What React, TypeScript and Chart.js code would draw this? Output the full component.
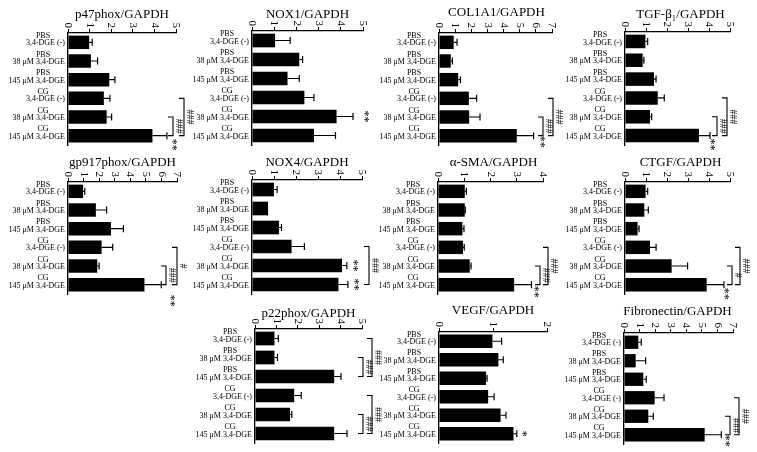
import React, { useEffect, useRef } from "react";
import { Chart, registerables } from "chart.js";

Chart.register(...registerables);

// ---------- DATA ----------
const groups = ["PBS", "PBS", "PBS", "CG", "CG", "CG"];
const doses = ["3,4-DGE (-)", "38 μM 3,4-DGE", "145 μM 3,4-DGE", "3,4-DGE (-)", "38 μM 3,4-DGE", "145 μM 3,4-DGE"];

const p47phoxMean = [0.98, 1.06, 1.91, 1.66, 1.79, 3.91];
const p47phoxErr = [0.14, 0.31, 0.26, 0.28, 0.23, 0.67];
const nox1Mean = [1.04, 2.13, 1.6, 2.36, 3.81, 2.79];
const nox1Err = [0.68, 0.15, 0.53, 0.43, 0.74, 0.97];
const col1a1Mean = [0.91, 0.73, 1.19, 1.85, 1.87, 4.82];
const col1a1Err = [0.21, 0.1, 0.14, 0.48, 0.67, 1.04];
const tgfMean = [0.97, 0.84, 1.38, 1.56, 1.19, 3.52];
const tgfErr = [0.11, 0.06, 0.1, 0.31, 0.08, 0.53];
const gp917Mean = [0.97, 1.79, 2.76, 2.16, 1.88, 4.91];
const gp917Err = [0.11, 0.69, 0.8, 0.71, 0.12, 1.08];
const nox4Mean = [1.0, 0.73, 1.23, 1.8, 4.09, 3.93];
const nox4Err = [0.14, 0, 0.11, 0.58, 0.22, 0.43];
const smaMean = [1.02, 1.02, 0.93, 0.95, 1.21, 2.9];
const smaErr = [0.06, 0.02, 0.06, 0.05, 0.05, 0.66];
const ctgfMean = [0.98, 0.92, 0.6, 1.19, 2.22, 3.89];
const ctgfErr = [0.1, 0.19, 0.07, 0.29, 0.76, 0.82];
const p22phoxMean = [0.91, 0.91, 3.7, 1.83, 1.64, 3.7];
const p22phoxErr = [0.18, 0.14, 0.32, 0.33, 0.08, 0.6];
const vegfMean = [0.99, 1.1, 0.87, 0.91, 1.14, 1.38];
const vegfErr = [0.17, 0.09, 0.02, 0.11, 0.1, 0.06];
const fnMean = [0.92, 0.75, 1.24, 1.97, 1.56, 5.18];
const fnErr = [0.19, 0.64, 0.19, 0.6, 0.32, 1.07];

const titles = [
  "p47phox/GAPDH", "NOX1/GAPDH", "COL1A1/GAPDH", "TGF-β₁/GAPDH",
  "gp917phox/GAPDH", "NOX4/GAPDH", "α-SMA/GAPDH", "CTGF/GAPDH",
  "p22phox/GAPDH", "VEGF/GAPDH", "Fibronectin/GAPDH",
];
const axisMax = [5, 5, 7, 5, 7, 5, 4, 5, 5, 2, 7];

// significance marks: [barIndex, text]
const p47Stars = [[5, "**"]];
const nox1Stars = [[4, "**"]];
const col1a1Stars = [[5, "**"]];
const tgfStars = [[5, "**"]];
const gp917Stars = [[5, "**"]];
const nox4Stars = [[4, "**"], [5, "**"]];
const smaStars = [[5, "**"]];
const ctgfStars = [[5, "**"]];
const p22Stars: any[] = [];
const vegfStars = [[5, "*"]];
const fnStars = [[5, "**"]];

// brackets: [fromBar, toBar, label]
const p47Brackets = [[4, 5, "###"], [3, 5, "###"]];
const nox1Brackets: any[] = [];
const col1a1Brackets = [[4, 5, "###"], [3, 5, "###"]];
const tgfBrackets = [[4, 5, "###"], [3, 5, "###"]];
const gp917Brackets = [[4, 5, "###"], [3, 5, "#"]];
const nox4Brackets = [[3, 5, "###"]];
const smaBrackets = [[4, 5, "###"], [3, 5, "###"]];
const ctgfBrackets = [[4, 5, "#"], [3, 5, "###"]];
const p22Brackets = [[1, 2, "###"], [0, 2, "###"], [4, 5, "###"], [3, 5, "###"]];
const vegfBrackets: any[] = [];
const fnBrackets = [[4, 5, "###"], [3, 5, "###"]];

// ---------- LAYOUT (positions / styles) ----------
const W = 757;
const H = 452;
const FONT = '"Liberation Serif", "Times New Roman", serif';

const layouts = [
  { x0: 68, x1: 176, top: 33, bottom: 145, titleY: 15, titleDx: 0, starOff: [[5, 9]], brDx: [-3, 8] },
  { x0: 252, x1: 363, top: 31, bottom: 145, titleY: 15, titleDx: 0, starOff: [[11, 0]], brDx: [] },
  { x0: 439, x1: 552, top: 33, bottom: 145, titleY: 13, titleDx: 1, starOff: [[7, 6]], brDx: [-9, 1] },
  { x0: 625, x1: 730, top: 32, bottom: 145, titleY: 15, titleDx: 3, starOff: [[0, 9]], brDx: [-13, -3] },
  { x0: 68, x1: 177, top: 182, bottom: 294, titleY: 163, titleDx: 0, starOff: [[9, 16]], brDx: [-11, 0] },
  { x0: 252, x1: 362, top: 180, bottom: 294, titleY: 163, titleDx: 0, starOff: [[6, 0], [6, 0]], brDx: [7] },
  { x0: 438, x1: 543, top: 182, bottom: 294, titleY: 163, titleDx: 3, starOff: [[3, 7]], brDx: [-3, 5] },
  { x0: 625, x1: 730, top: 182, bottom: 294, titleY: 163, titleDx: 3, starOff: [[0, 9]], brDx: [2, 10] },
  { x0: 255, x1: 362, top: 329, bottom: 443, titleY: 314, titleDx: 0, starOff: [], brDx: [1, 10, 1, 10] },
  { x0: 439, x1: 547, top: 332, bottom: 443, titleY: 311, titleDx: 0, starOff: [[5, 0]], brDx: [] },
  { x0: 624, x1: 733, top: 333, bottom: 444, titleY: 312, titleDx: -1, starOff: [[4, 6]], brDx: [-3, 6] },
];

const panelData = [
  [p47phoxMean, p47phoxErr, p47Stars, p47Brackets],
  [nox1Mean, nox1Err, nox1Stars, nox1Brackets],
  [col1a1Mean, col1a1Err, col1a1Stars, col1a1Brackets],
  [tgfMean, tgfErr, tgfStars, tgfBrackets],
  [gp917Mean, gp917Err, gp917Stars, gp917Brackets],
  [nox4Mean, nox4Err, nox4Stars, nox4Brackets],
  [smaMean, smaErr, smaStars, smaBrackets],
  [ctgfMean, ctgfErr, ctgfStars, ctgfBrackets],
  [p22phoxMean, p22phoxErr, p22Stars, p22Brackets],
  [vegfMean, vegfErr, vegfStars, vegfBrackets],
  [fnMean, fnErr, fnStars, fnBrackets],
];

function rotText(ctx: CanvasRenderingContext2D, text: string, x: number, y: number, align: CanvasTextAlign) {
  ctx.save();
  ctx.translate(x, y);
  ctx.rotate(Math.PI / 2);
  ctx.textAlign = align;
  ctx.textBaseline = "middle";
  ctx.fillText(text, 0, 0);
  ctx.restore();
}

const annotate = {
  id: "annotate",
  afterDraw(chart: any, _args: any, opts: any) {
    const idx = opts.idx as number;
    const L = layouts[idx];
    const [means, errs, stars, brackets] = panelData[idx] as any[];
    const ctx: CanvasRenderingContext2D = chart.ctx;
    const xs = chart.scales.x;
    const ys = chart.scales.y;
    const a = chart.chartArea;
    ctx.save();
    ctx.fillStyle = "#000";
    ctx.strokeStyle = "#000";

    // title
    ctx.font = `13px ${FONT}`;
    ctx.textAlign = "center";
    ctx.textBaseline = "middle";
    ctx.fillText(titles[idx], (a.left + a.right) / 2 + L.titleDx, L.titleY);

    // tick labels (rotated)
    ctx.font = `11px ${FONT}`;
    for (const t of xs.ticks) {
      rotText(ctx, String(t.value), xs.getPixelForValue(t.value), a.top - 5, "right");
    }

    // category labels
    ctx.font = `8px ${FONT}`;
    ctx.textBaseline = "middle";
    for (let i = 0; i < doses.length; i++) {
      const y = ys.getPixelForValue(i);
      ctx.textAlign = "right";
      ctx.fillText(doses[i], a.left - 3, y + 1);
      ctx.textAlign = "center";
      ctx.fillText(groups[i], a.left - 25, y - 6.5);
    }

    // error bars
    ctx.lineWidth = 1.2;
    for (let i = 0; i < means.length; i++) {
      if (!errs[i]) continue;
      const y = ys.getPixelForValue(i);
      const xa = xs.getPixelForValue(means[i]);
      const xb = xs.getPixelForValue(means[i] + errs[i]);
      ctx.beginPath();
      ctx.moveTo(xa, y);
      ctx.lineTo(xb, y);
      ctx.moveTo(xb, y - 3.5);
      ctx.lineTo(xb, y + 3.5);
      ctx.stroke();
    }

    // stars
    ctx.font = `12px ${FONT}`;
    stars.forEach((s: any, k: number) => {
      const i = s[0];
      const off = L.starOff[k] || [4, 0];
      const x = xs.getPixelForValue(means[i] + errs[i]) + off[0];
      const y = ys.getPixelForValue(i) + off[1];
      rotText(ctx, s[1], x, y, "center");
    });

    // brackets
    ctx.font = `10px ${FONT}`;
    ctx.lineWidth = 1.1;
    brackets.forEach((b: any, k: number) => {
      const bx = a.right + (L.brDx[k] || 0);
      const y1 = ys.getPixelForValue(b[0]);
      const y2 = ys.getPixelForValue(b[1]);
      ctx.beginPath();
      ctx.moveTo(bx - 5, y1);
      ctx.lineTo(bx, y1);
      ctx.lineTo(bx, y2);
      ctx.lineTo(bx - 5, y2);
      ctx.stroke();
      rotText(ctx, b[2], bx + 6, (y1 + y2) / 2, "center");
    });
    ctx.restore();
  },
};

function Panel({ idx }: { idx: number }) {
  const ref = useRef<HTMLCanvasElement>(null);
  useEffect(() => {
    const L = layouts[idx];
    const [means] = panelData[idx] as any[];
    const chart = new Chart(ref.current as HTMLCanvasElement, {
      type: "bar",
      data: {
        labels: doses.map((d, i) => groups[i] + " " + d),
        datasets: [
          {
            data: means,
            backgroundColor: "#000",
            borderWidth: 0,
            barPercentage: 0.72,
            categoryPercentage: 1,
          },
        ],
      },
      options: {
        indexAxis: "y",
        responsive: false,
        animation: false,
        events: [],
        layout: { padding: { left: L.x0, top: L.top, right: W - L.x1, bottom: H - L.bottom } },
        plugins: {
          legend: { display: false },
          tooltip: { enabled: false },
          title: { display: false },
          annotate: { idx },
        } as any,
        scales: {
          x: {
            type: "linear",
            position: "top",
            min: 0,
            max: axisMax[idx],
            ticks: { display: false, stepSize: 1, autoSkip: false },
            grid: { display: true, drawOnChartArea: false, drawTicks: true, tickLength: 4, color: "#000", lineWidth: 1 },
            border: { display: true, color: "#000", width: 1.3 },
            afterFit: (s: any) => { s.height = 0; },
          },
          y: {
            type: "category",
            position: "left",
            ticks: { display: false },
            grid: { display: false },
            border: { display: true, color: "#000", width: 1.3 },
            afterFit: (s: any) => { s.width = 0; },
          },
        },
      } as any,
      plugins: [annotate as any],
    });
    return () => chart.destroy();
  }, [idx]);
  return (
    <canvas
      ref={ref}
      width={W}
      height={H}
      style={{ position: "absolute", left: 0, top: 0, width: W, height: H }}
    />
  );
}

export default function App() {
  return (
    <div style={{ position: "absolute", left: 0, top: 0, width: W, height: H, background: "#fff", overflow: "hidden" }}>
      {titles.map((_, i) => (
        <Panel key={i} idx={i} />
      ))}
    </div>
  );
}
